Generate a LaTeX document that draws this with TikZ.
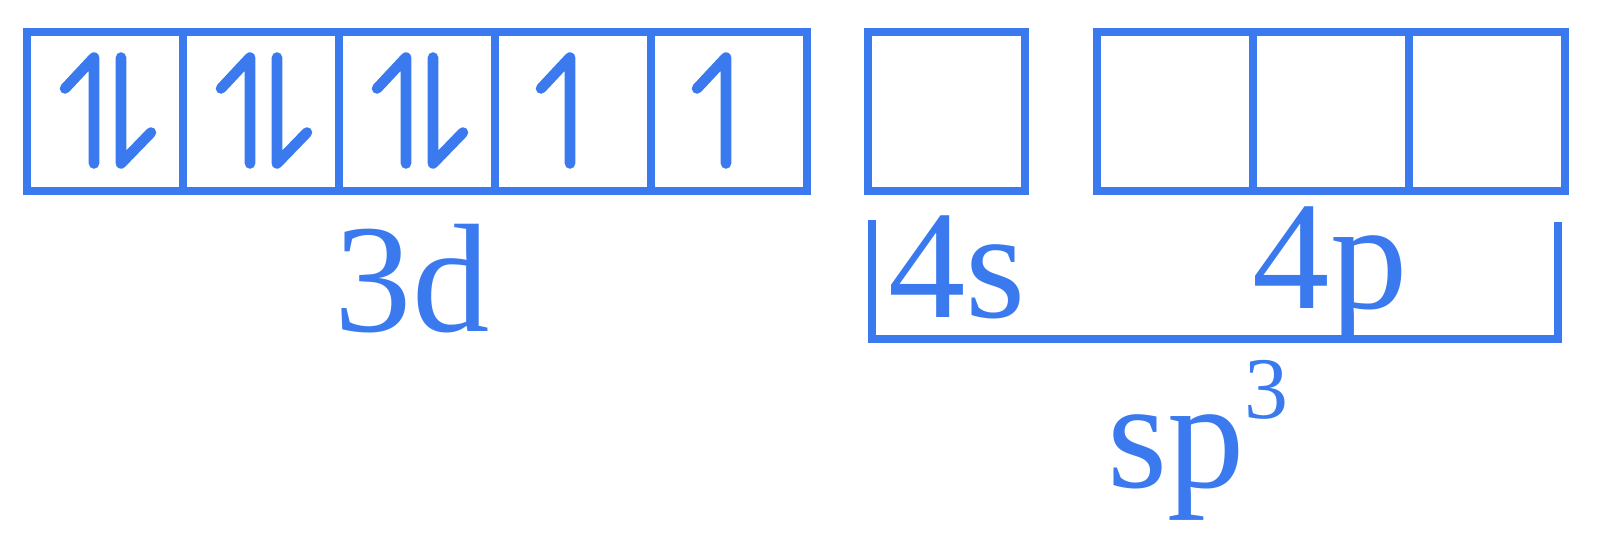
\documentclass[tikz,border=0pt]{standalone}
\usepackage{fontspec}
\setmainfont{Liberation Serif}
\usepackage{xcolor}
\usepackage{tikz}
\usetikzlibrary{positioning}
\definecolor{orbblue}{RGB}{58,122,238}

\begin{document}
\begin{tikzpicture}[
  x=0.1mm, y=-0.1mm,
  orb/.style={rectangle, draw=orbblue, line width=2.3pt, minimum width=1.56cm, minimum height=1.59cm, outer sep=0pt, inner sep=0pt},
  spin/.style={draw=orbblue, line width=3pt, line cap=round, line join=round},
  bracket/.style={draw=orbblue, line width=2.3pt},
  lbl/.style={text=orbblue, anchor=base, inner sep=0pt, font=\fontsize{44}{44}\selectfont}
]
\useasboundingbox (0,0) rectangle (1600,534);

% 3d orbitals
\node[orb] (d1) at (105,111.5) {};
\node[orb, right=0pt of d1] (d2) {};
\node[orb, right=0pt of d2] (d3) {};
\node[orb, right=0pt of d3] (d4) {};
\node[orb, right=0pt of d4] (d5) {};

% 4s and 4p orbitals
\node[orb, minimum width=1.57cm] (s1) at (946.5,111.5) {};
\node[orb] (p1) at (1175,111.5) {};
\node[orb, right=0pt of p1] (p2) {};
\node[orb, right=0pt of p2] (p3) {};

% paired electrons
\foreach \b in {d1,d2,d3} {
  \draw[spin] ([shift={(-11,52)}]\b.center) -- ++(0,-106) -- ++(-29,31);
  \draw[spin] ([shift={(16,-54)}]\b.center) -- ++(0,106) -- ++(30,-31);
}
% unpaired electrons
\foreach \b in {d4,d5} {
  \draw[spin] ([shift={(-3,52)}]\b.center) -- ++(0,-106) -- ++(-29,31);
}

% hybridisation bracket
\draw[bracket] (872,220) |- (1558,339) -- (1558,222);

\node[lbl] (l3d) at (412,332) {3d};
\node[lbl] (l4s) at (957,318) {4s};
\node[lbl] (l4p) at (1330,309) {4p};
\node[lbl] (lsp) at (1198,488) {sp\raisebox{0.45em}{\fontsize{25}{25}\selectfont 3}};
\end{tikzpicture}
\end{document}
